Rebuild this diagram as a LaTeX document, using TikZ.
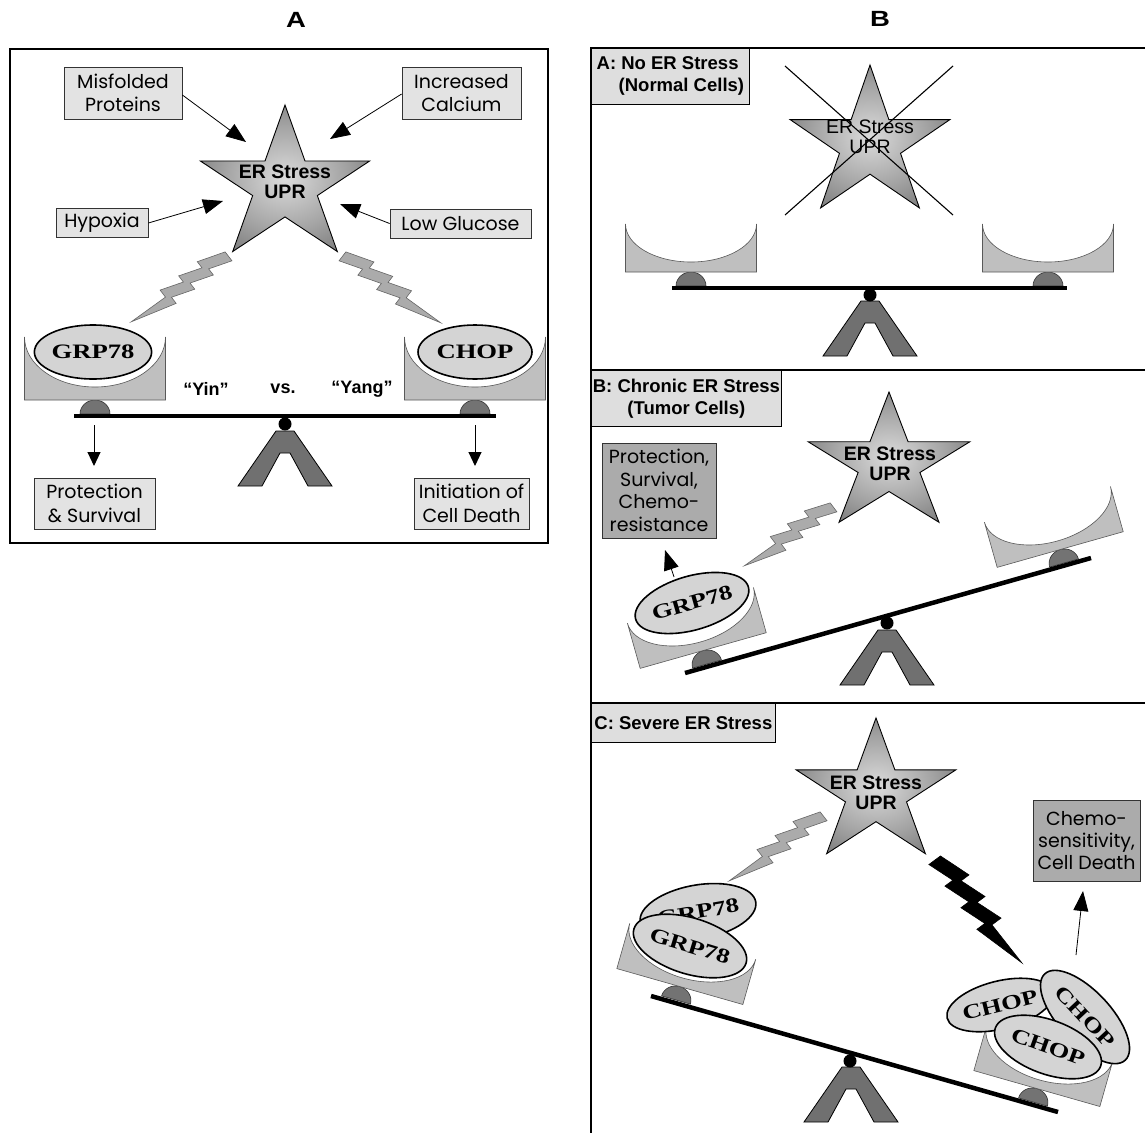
\documentclass[tikz,border=0pt]{standalone}
\usepackage{fontspec}
\setmainfont{Liberation Sans}
\newfontfamily\lab{Poppins}
\newfontfamily\arb{Liberation Sans}
\newfontfamily\ser{Liberation Serif}
\usetikzlibrary{shapes.geometric,arrows.meta,calc}
\pgfdeclareradialshading{starshade}{\pgfpoint{0bp}{0bp}}{color(0bp)=(black!14); color(18bp)=(black!36); color(45bp)=(black!72); color(50bp)=(black!72)}
\newcommand\ERstar[4]{%
\shadedraw[shading=starshade, draw=black, line width=0.9pt]
 ({#1+#3*cos(90)},{#2-#4*sin(90)}) -- ({#1+0.382*#3*cos(126)},{#2-0.382*#4*sin(126)})
 -- ({#1+#3*cos(162)},{#2-#4*sin(162)}) -- ({#1+0.382*#3*cos(198)},{#2-0.382*#4*sin(198)})
 -- ({#1+#3*cos(234)},{#2-#4*sin(234)}) -- ({#1+0.382*#3*cos(270)},{#2-0.382*#4*sin(270)})
 -- ({#1+#3*cos(306)},{#2-#4*sin(306)}) -- ({#1+0.382*#3*cos(342)},{#2-0.382*#4*sin(342)})
 -- ({#1+#3*cos(18)},{#2-#4*sin(18)}) -- ({#1+0.382*#3*cos(54)},{#2-0.382*#4*sin(54)}) -- cycle;}
\newcommand\pan[5]{%
\begin{scope}[shift={#1}, rotate=#2]
\pgfmathsetmacro\PanW{#3/2}\pgfmathsetmacro\PanT{-14-#4}\pgfmathsetmacro\PanB{-14-#4+#5}%
\pgfmathsetmacro\PanC{-14-#4+0.552*#5}\pgfmathsetmacro\PanK{0.552*#3/2}%
\filldraw[bumpsty] (-15,0) .. controls (-15,-7.7) and (-8.3,-14) .. (0,-14) .. controls (8.3,-14) and (15,-7.7) .. (15,0) -- cycle;
\filldraw[pansty] (-\PanW,-14) -- (\PanW,-14) -- (\PanW,\PanT) .. controls (\PanW,\PanC) and (\PanK,\PanB) .. (0,\PanB) .. controls (-\PanK,\PanB) and (-\PanW,\PanC) .. (-\PanW,\PanT) -- cycle;
\end{scope}}
\newcommand\bolt[4]{%
\pgfmathsetmacro\BvA{7*#3}\pgfmathsetmacro\BvB{1.5*#3}\pgfmathsetmacro\BvC{-2*#3}%
\pgfmathsetmacro\BvD{-1.2*#3}\pgfmathsetmacro\BvE{-7.5*#3}\pgfmathsetmacro\BvF{-1*#3}%
\filldraw[#4] ($(#1)!\BvA pt!90:(#2)$)
 -- ($(#1)!0.2!(#2)!\BvB pt!90:(#2)$) -- ($(#1)!0.2!(#2)!\BvA pt!90:(#2)$)
 -- ($(#1)!0.4!(#2)!\BvB pt!90:(#2)$) -- ($(#1)!0.4!(#2)!\BvA pt!90:(#2)$)
 -- ($(#1)!0.6!(#2)!\BvB pt!90:(#2)$) -- ($(#1)!0.6!(#2)!\BvA pt!90:(#2)$)
 -- ($(#2)!\BvC pt!-90:(#1)$)
 -- ($(#1)!0.64!(#2)!\BvD pt!90:(#2)$) -- ($(#1)!0.64!(#2)!\BvE pt!90:(#2)$)
 -- ($(#1)!0.44!(#2)!\BvC pt!90:(#2)$) -- ($(#1)!0.44!(#2)!\BvE pt!90:(#2)$)
 -- ($(#1)!0.24!(#2)!\BvC pt!90:(#2)$) -- ($(#1)!0.24!(#2)!\BvE pt!90:(#2)$)
 -- ($(#1)!\BvF pt!90:(#2)$) -- cycle;}
\tikzset{
 labbox/.style={draw=black!80, line width=0.8pt, fill=black!11, inner sep=0pt, align=center, font=\lab\fontsize{19}{23}\selectfont},
 resbox/.style={labbox, fill=black!33},
 blbl/.style={draw=black, line width=0.8pt, fill=black!13, inner sep=0pt, align=center, font=\arb\bfseries\fontsize{18.5}{22}\selectfont},
 startxt/.style={align=center, inner sep=0pt, font=\arb\bfseries\fontsize{19.5}{20}\selectfont},
 startxtR/.style={align=center, inner sep=0pt, font=\arb\fontsize{19.5}{20}\selectfont},
 ellip/.style={ellipse, draw=black, line width=1.6pt, fill=black!17, inner sep=0pt, font=\ser\bfseries\fontsize{20.5}{20}\selectfont},
 pansty/.style={fill=black!25, draw=black!65, line width=0.6pt},
 bumpsty/.style={fill=black!55, draw=black!80, line width=0.6pt},
 beamln/.style={line width=4.5pt},
 ballnd/.style={circle, fill=black, inner sep=0pt, minimum size=13pt},
 bigarr/.style={line width=0.8pt, -{Triangle[length=20pt,width=15pt]}},
 midarr/.style={line width=1pt, -{Triangle[length=14pt,width=13pt]}},
 graybolt/.style={fill=black!33, draw=black!60, line width=0.6pt},
 blackbolt/.style={fill=black, draw=black, line width=0.6pt},
 crossln/.style={line width=1.1pt},
 ttl/.style={font=\arb\bfseries\fontsize{22}{22}\selectfont, inner sep=0pt},
 ynt/.style={font=\arb\bfseries\fontsize{18}{18}\selectfont, inner sep=0pt},
 chev/.pic={\filldraw[fill=black!56, draw=black, line width=0.8pt] (-9,0)--(9,0)--(47,55)--(23,55)--(5,22)--(-5,22)--(-23,55)--(-47,55)--cycle;}
}
\begin{document}
\begin{tikzpicture}[x=1pt,y=-1pt]
\useasboundingbox (0,0) rectangle (1145,1133);
\fill[white] (0,0) rectangle (1145,1133);
% titles
\node[ttl] (ttlA) at (296,20) {\scalebox{1.25}[1]{A}};
\node[ttl] (ttlB) at (880,19) {\scalebox{1.25}[1]{B}};
% ================= panel A =================
\draw[line width=1.5pt] (10,49) rectangle (548,543);
\coordinate (bl1s) at (226,253); \coordinate (bl1t) at (133,324);
\coordinate (bl2s) at (345,253); \coordinate (bl2t) at (439,325);
\bolt{bl1s}{bl1t}{1.4}{graybolt}
\bolt{bl2s}{bl2t}{-1.4}{graybolt}
\ERstar{285}{186}{89}{81}
\node[startxt] (starA) at (285,182) {ER Stress\\UPR};
\node[labbox, minimum width=118pt, minimum height=52pt] (mis) at (123,93) {Misfolded\\Proteins};
\node[labbox, minimum width=119pt, minimum height=52pt] (inc) at (461.5,93) {Increased\\Calcium};
\node[labbox, minimum width=92pt, minimum height=29pt] (hyp) at (102,223) {Hypoxia};
\node[labbox, minimum width=141pt, minimum height=29pt] (low) at (460.5,223.5) {Low Glucose};
\coordinate (tMis) at (246,142); \coordinate (tInc) at (330,139);
\coordinate (tHyp) at (223,201); \coordinate (tLow) at (340,204);
\draw[bigarr] ([yshift=-2pt]mis.east) -- (tMis);
\draw[bigarr] ([yshift=-1pt]inc.west) -- (tInc);
\draw[bigarr] (hyp.east) -- (tHyp);
\draw[bigarr] (low.west) -- (tLow);
\pan{(95,414)}{0}{141}{63}{50}
\pan{(475,414)}{0}{141}{63}{50}
\node[ellip, minimum width=114pt, minimum height=54pt] (grpA) at (93,352) {\scalebox{1.3}[1]{GRP78}};
\node[ellip, minimum width=114pt, minimum height=54pt] (chopA) at (475,352) {\scalebox{1.3}[1]{CHOP}};
\pic at (285,431) {chev};
\node[ballnd] (ballA) at (285,424) {};
\coordinate (bAL) at (74,416); \coordinate (bAR) at (496,416);
\draw[beamln] (bAL) -- (bAR);
\node[ynt] (yin) at (206,389) {“Yin”};
\node[ynt] (vs) at (283,389) {vs.};
\node[ynt] (yang) at (362,389) {“Yang”};
\node[labbox, minimum width=121pt, minimum height=51pt, font=\lab\fontsize{19}{24}\selectfont] (prot) at (94.5,503.5) {Protection\\\&~Survival};
\node[labbox, minimum width=115pt, minimum height=51pt, font=\lab\fontsize{19}{24}\selectfont] (init) at (471.5,503.5) {Initiation of\\Cell Death};
\coordinate (dL1) at (94,425); \coordinate (dL2) at (94,466);
\coordinate (dR1) at (475,425); \coordinate (dR2) at (475,466);
\draw[midarr] (dL1) -- (dL2);
\draw[midarr] (dR1) -- (dR2);
% ================= panel B frame =================
\draw[line width=1.5pt] (1145,48) -- (591,48) -- (591,1133);
\draw[line width=1.5pt] (591,370) -- (1145,370);
\draw[line width=1.5pt] (591,703) -- (1145,703);
% ---------- B / A ----------
\node[blbl, anchor=north west, minimum width=158pt, minimum height=56pt, align=left] (labBA) at (591,48) {A: No ER Stress\\\hspace*{22pt}(Normal Cells)};
\ERstar{870}{144}{84}{79}
\node[startxtR] (starBA) at (870,136.5) {ER Stress\\UPR};
\coordinate (xa1) at (785,66); \coordinate (xa2) at (953,215);
\coordinate (xb1) at (953,66); \coordinate (xb2) at (785,215);
\draw[crossln] (xa1) -- (xa2);
\draw[crossln] (xb1) -- (xb2);
\pan{(691,286)}{0}{131}{48}{38}
\pan{(1048,286)}{0}{131}{48}{38}
\pic at (870,301) {chev};
\node[ballnd] (ballBA) at (870,295) {};
\coordinate (bBAL) at (672,288); \coordinate (bBAR) at (1067,288);
\draw[beamln] (bBAL) -- (bBAR);
% ---------- B / B ----------
\node[blbl, anchor=north west, minimum width=190pt, minimum height=56pt] (labBB) at (591,370) {B: Chronic ER Stress\\(Tumor Cells)};
\node[resbox, minimum width=114pt, minimum height=95pt, font=\lab\fontsize{19}{22.5}\selectfont] (resBB) at (659,490.5) {Protection,\\Survival,\\Chemo-\\resistance};
\ERstar{889}{464}{85}{72}
\node[startxt] (starBB) at (890,464) {ER Stress\\UPR};
\coordinate (bl3s) at (831,504); \coordinate (bl3t) at (746,568);
\bolt{bl3s}{bl3t}{1.4}{graybolt}
\pan{(707,664)}{15.8}{131}{47}{38}
\pan{(1064,563)}{15.8}{131}{47}{38}
\node[ellip, minimum width=114pt, minimum height=54pt, rotate=16] (grpBB) at (692,603) {\scalebox{1.3}[1]{GRP78}};
\coordinate (aBB1) at (674,577); \coordinate (aBB2) at (665,550);
\draw[bigarr] (aBB1) -- (aBB2);
\pic at (887,630) {chev};
\node[ballnd] (ballBB) at (887,623) {};
\coordinate (bBBL) at (685,673); \coordinate (bBBR) at (1091,558);
\draw[beamln] (bBBL) -- (bBBR);
% ---------- B / C ----------
\node[blbl, anchor=north west, minimum width=184pt, minimum height=39pt] (labBC) at (591,703) {C: Severe ER Stress};
\ERstar{876}{793}{84}{75}
\node[startxt] (starBC) at (876,792.5) {ER Stress\\UPR};
\coordinate (bl4s) at (821,813); \coordinate (bl4t) at (731,883);
\bolt{bl4s}{bl4t}{1.4}{graybolt}
\coordinate (bl5s) at (939,857); \coordinate (bl5t) at (1019,965);
\bolt{bl5s}{bl5t}{-1.8}{blackbolt}
\node[resbox, minimum width=107pt, minimum height=81pt, font=\lab\fontsize{19}{22}\selectfont] (resBC) at (1086.5,840.5) {Chemo-\\sensitivity,\\Cell Death};
\coordinate (aBC1) at (1076,955); \coordinate (aBC2) at (1083,891);
\draw[bigarr] (aBC1) -- (aBC2);
\pan{(676,1000)}{-15.9}{131}{47}{38}
\node[ellip, minimum width=114pt, minimum height=54pt, rotate=10] (grpBC1) at (698,912) {\scalebox{1.3}[1]{GRP78}};
\node[ellip, minimum width=116pt, minimum height=56pt, rotate=-17] (grpBC2) at (690,946) {\scalebox{1.3}[1]{GRP78}};
\pan{(1033,1102)}{-15.9}{131}{47}{38}
\node[ellip, minimum width=94pt, minimum height=48pt, rotate=14] (chopC1) at (1000,1005) {\scalebox{1.3}[1]{CHOP}};
\node[ellip, minimum width=118pt, minimum height=52pt, rotate=-47] (chopC2) at (1085,1017) {\scalebox{1.3}[1]{CHOP}};
\node[ellip, minimum width=112pt, minimum height=54pt, rotate=-20] (chopC3) at (1048,1047) {\scalebox{1.3}[1]{CHOP}};
\pic at (851,1067) {chev};
\node[ballnd] (ballBC) at (850,1061) {};
\coordinate (bBCL) at (651,996); \coordinate (bBCR) at (1058,1112);
\draw[beamln] (bBCL) -- (bBCR);
\end{tikzpicture}
\end{document}
